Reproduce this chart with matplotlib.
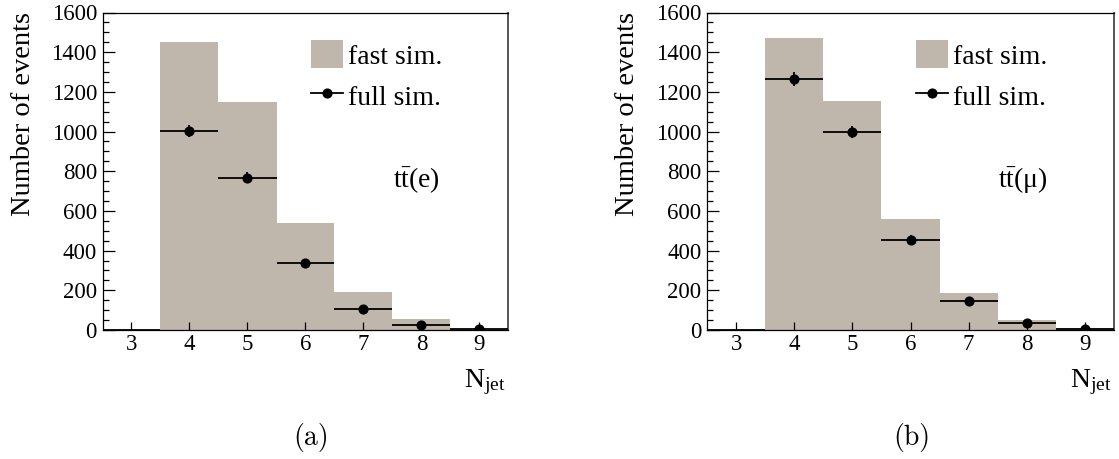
import numpy as np
import matplotlib
matplotlib.use("Agg")
import matplotlib.pyplot as plt
from matplotlib.patches import Patch
from matplotlib.lines import Line2D
from matplotlib.ticker import MultipleLocator

plt.rcParams['font.family'] = ['Liberation Serif', 'DejaVu Serif']
plt.rcParams['mathtext.fontset'] = 'custom'
plt.rcParams['mathtext.rm'] = 'Liberation Serif'
plt.rcParams['mathtext.it'] = 'Liberation Serif:italic'
plt.rcParams['mathtext.bf'] = 'Liberation Serif:bold'

# ---- data ----
njet = [3, 4, 5, 6, 7, 8, 9]
fast_e = [0, 1450, 1148, 538, 191, 54, 6]
full_e = [0, 1002, 768, 340, 107, 25, 5]
err_e = [0, 30, 27, 18, 10, 5, 2]
fast_mu = [0, 1470, 1156, 557, 184, 50, 9]
full_mu = [0, 1266, 998, 456, 146, 36, 7]
err_mu = [0, 35, 32, 21, 12, 6, 3]
channels = [r'$\mathrm{t\bar{t}}$(e)', r'$\mathrm{t\bar{t}}$(μ)']
captions = ['(a)', '(b)']
legend_labels = ['fast sim.', 'full sim.']
xticks = [3, 4, 5, 6, 7, 8, 9]
yticks = [0, 200, 400, 600, 800, 1000, 1200, 1400, 1600]

fill = '#bfb6ac'

fig = plt.figure(figsize=(11.19, 4.59), dpi=100)
W, H = 1119, 459
panels = [
    dict(left=102.5, right=508.5, fast=fast_e, full=full_e, err=err_e,
         chan=channels[0], cap=captions[0], capx=311.5),
    dict(left=707.0, right=1114.0, fast=fast_mu, full=full_mu, err=err_mu,
         chan=channels[1], cap=captions[1], capx=912.0),
]
top, bottom = 12.5, 330.0

for p in panels:
    ax = fig.add_axes([p['left'] / W, 1 - bottom / H,
                       (p['right'] - p['left']) / W, (bottom - top) / H])
    x = np.array(njet, dtype=float)
    edges = np.append(x - 0.5, x[-1] + 0.5)
    ax.stairs(p['fast'], edges, fill=True, color=fill, lw=0, zorder=1)
    full = np.array(p['full'], dtype=float)
    err = np.array(p['err'], dtype=float)
    ax.errorbar(x, full, yerr=err, xerr=0.5, fmt='none', ecolor='black',
                elinewidth=1.3, capsize=0, zorder=3, clip_on=False)
    m = full > 0
    ax.plot(x[m], full[m], 'o', color='black', ms=6.3, zorder=4)

    ax.set_xlim(2.5, 9.5)
    ax.set_ylim(0, 1600)
    ax.set_xticks(xticks)
    ax.set_yticks(yticks)
    ax.yaxis.set_minor_locator(MultipleLocator(50))
    ax.tick_params(axis='y', which='major', direction='in', length=8.5,
                   width=0.9, labelsize=16.5, pad=4, right=False)
    ax.tick_params(axis='y', which='minor', direction='in', length=4,
                   width=0.9, right=False)
    ax.tick_params(axis='x', which='major', direction='in', length=6,
                   width=0.9, labelsize=16.5, pad=3, top=False)
    for lab in ax.get_xticklabels() + ax.get_yticklabels():
        lab.set_fontfamily('Liberation Serif')
    for s in ['left', 'bottom', 'top']:
        ax.spines[s].set_linewidth(0.9)
        ax.spines[s].set_color('black')
    ax.spines['right'].set_linewidth(1.4)
    ax.spines['right'].set_color('#555555')
    ax.spines['bottom'].set_zorder(5)

    ax.set_ylabel('Number of events', fontsize=20.5, loc='top',
                  fontfamily='Liberation Serif')
    ax.yaxis.set_label_coords(-0.165, 1.0)

    ax.text(0.994, -0.179, r'N$_{\mathrm{jet}}$', transform=ax.transAxes,
            ha='right', va='baseline', fontsize=20)
    ax.text(0.716, 0.469, p['chan'], transform=ax.transAxes,
            ha='left', va='center', fontsize=20)

    handles = [Patch(facecolor=fill, edgecolor='none'),
               Line2D([], [], color='black', lw=1.3, marker='o', ms=6.3)]
    ax.legend(handles, legend_labels, loc='upper left',
              bbox_to_anchor=(0.5135, 0.912), frameon=False, fontsize=20,
              handlelength=1.15, handleheight=1.15, handletextpad=0.2,
              labelspacing=0.43, borderpad=0, borderaxespad=0)

    fig.text(p['capx'] / W, 1 - 437 / H, p['cap'], fontfamily='cmr10',
             fontsize=20, ha='center', va='center')

fig.savefig('out.png', dpi=100)
